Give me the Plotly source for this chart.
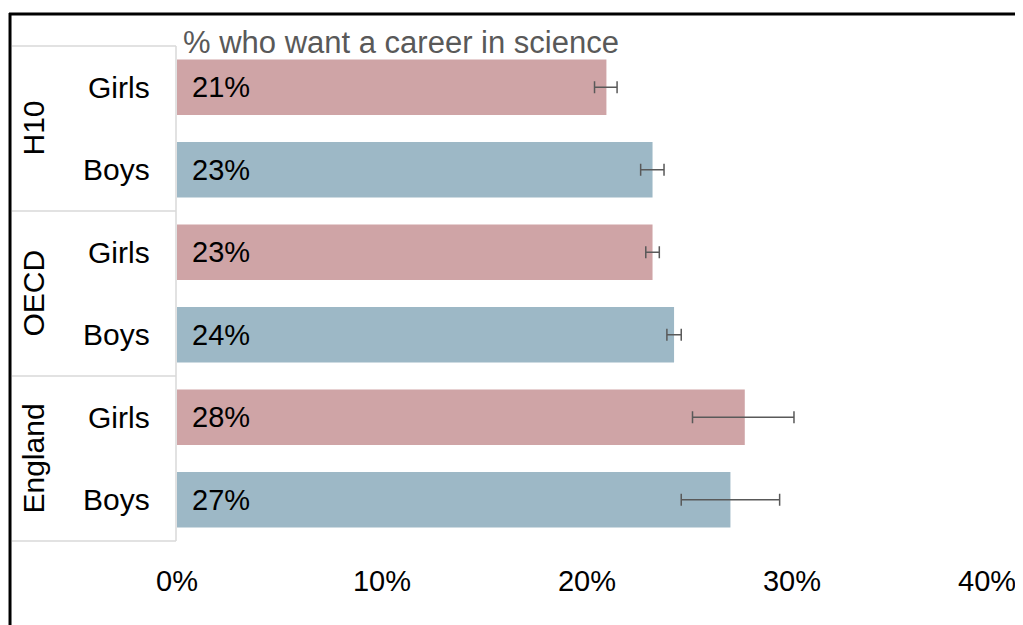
import plotly.graph_objects as go

# Data (bottom to top)
groups = ["England", "England", "OECD", "OECD", "H10", "H10"]
genders = ["Boys", "Girls", "Boys", "Girls", "Boys", "Girls"]
values = [27.0, 27.7, 24.25, 23.2, 23.2, 20.95]
err_plus = [2.4, 2.4, 0.35, 0.33, 0.56, 0.52]
err_minus = [2.4, 2.55, 0.35, 0.33, 0.58, 0.58]
group_names = ["England", "OECD", "H10"]
x_ticks = [0, 10, 20, 30, 40]
x_tick_labels = ["0%", "10%", "20%", "30%", "40%"]
title_text = "% who want a career in science"

PINK = "#cfa4a6"
BLUE = "#9db8c6"
FONT = "Liberation Sans, Arial, sans-serif"

cats = [f"{g}|{s}" for g, s in zip(groups, genders)]
colors = [PINK if s == "Girls" else BLUE for s in genders]

fig = go.Figure()
fig.add_trace(go.Bar(
    y=cats, x=values, orientation="h",
    marker=dict(color=colors, line=dict(width=0)),
    error_x=dict(type="data", array=err_plus, arrayminus=err_minus,
                 color="#595959", thickness=1.5, width=6, symmetric=False),
    hoverinfo="x+y",
))

OFF = 8  # page body margin
W, H = 1023 - OFF, 625 - OFF
XMAX = 40.2
ml, mt, mb = 177 - OFF, 46 - OFF, 625 - 541
pw = (997 - 177) * XMAX / 40
mr = W - ml - pw
ph = H - mt - mb

def px2paper_x(px):
    return (px - OFF - ml) / pw

def py2paper_y(py):
    return (H - mb - (py - OFF)) / ph

TICK_SIZE = 29
annotations = []
for c, v in zip(cats, values):
    annotations.append(dict(x=0, y=c, xref="x", yref="y", text=f"{round(v):.0f}%",
                            showarrow=False, xanchor="left", yanchor="middle", xshift=13,
                            font=dict(family=FONT, size=29, color="black")))
for c, s in zip(cats, genders):
    annotations.append(dict(x=px2paper_x(152), y=c, xref="paper", yref="y", text=s,
                            showarrow=False, xanchor="right", yanchor="middle",
                            font=dict(family=FONT, size=30, color="black")))
for i, g in enumerate(group_names):
    annotations.append(dict(x=px2paper_x(33), y=(i + 0.5) / 3, xref="paper", yref="paper",
                            text=g, textangle=-90, showarrow=False,
                            xanchor="center", yanchor="middle",
                            font=dict(family=FONT, size=30, color="black")))
annotations.append(dict(x=px2paper_x(181), y=py2paper_y(43), xref="paper", yref="paper",
                        text=title_text, showarrow=False, xanchor="left", yanchor="middle",
                        font=dict(family=FONT, size=31, color="#595959")))
# last tick label kept inside the page edge (as in the reference)
annotations.append(dict(x=x_ticks[-1], y=py2paper_y(581), xref="x", yref="paper",
                        text=x_tick_labels[-1], showarrow=False, xanchor="right",
                        yanchor="middle", xshift=21,
                        font=dict(family=FONT, size=TICK_SIZE, color="black")))

shapes = []
grey = "#d9d9d9"
for yy in [0, 1 / 3, 2 / 3, 1]:
    shapes.append(dict(type="line", xref="paper", yref="paper",
                       x0=px2paper_x(12), x1=px2paper_x(176), y0=yy, y1=yy,
                       line=dict(color=grey, width=1.5)))
shapes.append(dict(type="line", xref="paper", yref="paper",
                   x0=px2paper_x(176), x1=px2paper_x(176), y0=0, y1=1,
                   line=dict(color=grey, width=1.5)))
shapes.append(dict(type="line", xref="paper", yref="paper",
                   x0=px2paper_x(10), x1=px2paper_x(10), y0=py2paper_y(13), y1=py2paper_y(630),
                   line=dict(color="black", width=3)))
shapes.append(dict(type="line", xref="paper", yref="paper",
                   x0=px2paper_x(9), x1=px2paper_x(1030), y0=py2paper_y(14), y1=py2paper_y(14),
                   line=dict(color="black", width=3)))

fig.update_layout(
    width=W, height=H,
    margin=dict(l=ml, r=mr, t=mt, b=mb, pad=0, autoexpand=False),
    paper_bgcolor="white", plot_bgcolor="white",
    bargap=0.33,
    showlegend=False,
    annotations=annotations,
    shapes=shapes,
    font=dict(family=FONT),
    xaxis=dict(range=[0, XMAX], tickvals=x_ticks[:-1], ticktext=x_tick_labels[:-1],
               showgrid=False, zeroline=False, showline=False, ticks="",
               automargin=False,
               tickfont=dict(family=FONT, size=TICK_SIZE, color="black"), ticklabelstandoff=20),
    yaxis=dict(type="category", categoryorder="array", categoryarray=cats,
               showticklabels=False, showgrid=False, zeroline=False, showline=False, ticks=""),
)

fig.write_html("out.html")
